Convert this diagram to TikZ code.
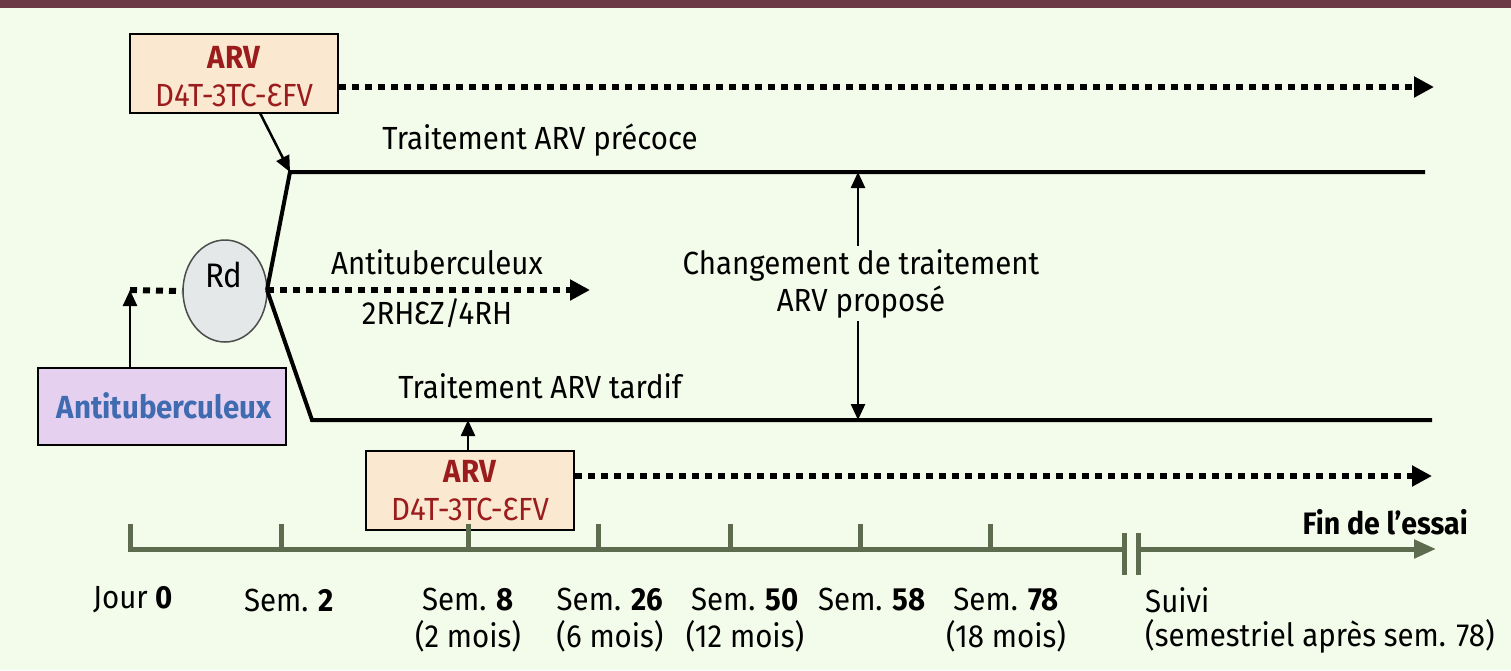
\documentclass[tikz,border=0pt]{standalone}
\usepackage{fontspec}
\setmainfont{Fira Sans}[FakeStretch=0.92]
\usetikzlibrary{arrows.meta,shapes.geometric,calc}
\definecolor{bg}{HTML}{F3FBEA}
\definecolor{band}{HTML}{6B3A46}
\definecolor{arvfill}{HTML}{FAE8D0}
\definecolor{arvred}{HTML}{9B1C1C}
\definecolor{tbfill}{HTML}{E6D0F0}
\definecolor{tbblue}{HTML}{3F6BB0}
\definecolor{axis}{HTML}{5D6B4E}
\definecolor{rdfill}{HTML}{E4E8E8}
\tikzset{
  txt/.style={font=\fontsize{32}{36}\selectfont, inner sep=0pt},
  btxt/.style={font=\fontsize{32}{36}\selectfont\bfseries, inner sep=0pt},
  arvbox/.style={draw=black, line width=2pt, fill=arvfill, minimum width=208pt, minimum height=79pt, inner sep=0pt},
  tbbox/.style={draw=black, line width=2pt, fill=tbfill, minimum width=248pt, minimum height=77pt, inner sep=0pt},
  dots/.style={line width=6pt, dash pattern=on 7pt off 6pt, -{Triangle[length=20pt,width=20pt]}},
  dotsplain/.style={line width=6pt, dash pattern=on 7pt off 6pt},
  branch/.style={line width=4pt, line join=miter},
  thin/.style={line width=2.5pt, -{Triangle[length=16pt,width=14pt]}},
  both/.style={line width=2.5pt, {Triangle[length=16pt,width=14pt]}-{Triangle[length=16pt,width=14pt]}},
  axisline/.style={line width=5pt, draw=axis},
  tick/.style={line width=5pt, draw=axis},
}
\begin{document}
\begin{tikzpicture}[x=1pt,y=-1pt]
\fill[bg] (0,0) rectangle (1511,670);
\useasboundingbox (0,0) rectangle (1511,670);
\fill[band] (0,0) rectangle (1511,8);

% boxes
\node[arvbox] (arv1) at (234,73.5) {};
\node[btxt, text=arvred] (arv1t) at (234,57) {ARV};
\node[txt, text=arvred] (arv1d) at (234,95) {D4T-3TC-ƐFV};

\node[arvbox] (arv2) at (470,490.5) {};
\node[btxt, text=arvred] (arv2t) at (470,471) {ARV};
\node[txt, text=arvred] (arv2d) at (470,509) {D4T-3TC-ƐFV};

\node[tbbox] (tb) at (162,406.5) {};
\node[btxt, text=tbblue] (tbt) at (164,406) {Antituberculeux};

\node[draw=black!70, line width=1.5pt, fill=rdfill, ellipse, minimum width=84pt, minimum height=102pt, inner sep=0pt] (rd) at (225,291) {};
\node[txt, font=\fontsize{34}{38}\selectfont] (rdt) at (224,275) {Rd};

% coordinates
\coordinate (j) at (130,290);
\coordinate (rdE) at (267,290);
\coordinate (up) at (290,172);
\coordinate (upE) at (1425,172);
\coordinate (lo) at (312,420);
\coordinate (loE) at (1432,420);
\coordinate (a1s) at (260,113);
\coordinate (d1e) at (1434,87);
\coordinate (tbe) at (590,290);
\coordinate (d2e) at (1432,476);
\coordinate (a2n) at (468,451);
\coordinate (ch1) at (858,172);
\coordinate (ch2) at (858,420);

% branches
\draw[branch] (rdE) -- (up) -- (upE);
\draw[branch] (rdE) -- (lo) -- (loE);
\draw[thin] (a1s) -- (up);
\draw[thin] (a2n) -- (a2n |- lo);
\draw[both] (ch1) -- (ch2);

% dotted
\draw[dots] (arv1.east |- d1e) -- (d1e);
\draw[dots] (arv2.east |- d2e) -- (d2e);
\draw[dots] (rdE) -- (tbe);
\draw[dotsplain] (j) -- (rd.west);
\draw[thin] (tb.north -| j) -- (j);

% labels
\node[txt] (lp) at (540,140) {Traitement ARV précoce};
\node[txt] (lt) at (540,386) {Traitement ARV tardif};
\node[txt] (la1) at (437,262) {Antituberculeux};
\node[txt] (la2) at (437,313) {2RHƐZ/4RH};
\node[txt, fill=bg, inner sep=3pt] (lc1) at (861,265) {Changement de traitement};
\node[txt, fill=bg, inner sep=3pt] (lc2) at (861,302) {ARV proposé};

% axis
\coordinate (ax0) at (130,549);
\coordinate (axb1) at (1124,549);
\coordinate (axb2) at (1138,549);
\coordinate (axE) at (1436,549);
\draw[axisline] (ax0) -- (axb1);
\draw[axisline, -{Triangle[length=22pt,width=18pt]}] (axb2) -- (axE);
\draw[tick] (1124,533) -- (1124,575);
\draw[tick] (1138,533) -- (1138,575);
\foreach \x in {130,281,468,598,730,860,990}{
  \draw[tick] (\x,524) -- (\x,551.5);
}
\node[btxt, font=\fontsize{31}{34}\selectfont\bfseries, anchor=east] (fin) at (1468,522) {Fin de l’essai};

\node[txt] (t0) at (133,600) {Jour \textbf{0}};
\node[txt] (t2) at (289,600) {Sem. \textbf{2}};
\node[txt] (t8) at (468,600) {Sem. \textbf{8}};
\node[txt] (t8b) at (468,636) {(2 mois)};
\node[txt] (t26) at (610,600) {Sem. \textbf{26}};
\node[txt] (t26b) at (610,636) {(6 mois)};
\node[txt] (t50) at (745,600) {Sem. \textbf{50}};
\node[txt] (t50b) at (745,636) {(12 mois)};
\node[txt] (t58) at (872,600) {Sem. \textbf{58}};
\node[txt] (t78) at (1006,600) {Sem. \textbf{78}};
\node[txt] (t78b) at (1006,636) {(18 mois)};
\node[txt, anchor=west] (ts) at (1145,600) {Suivi};
\node[txt, anchor=west] (tsb) at (1145,636) {(semestriel après sem. 78)};
\end{tikzpicture}
\end{document}
